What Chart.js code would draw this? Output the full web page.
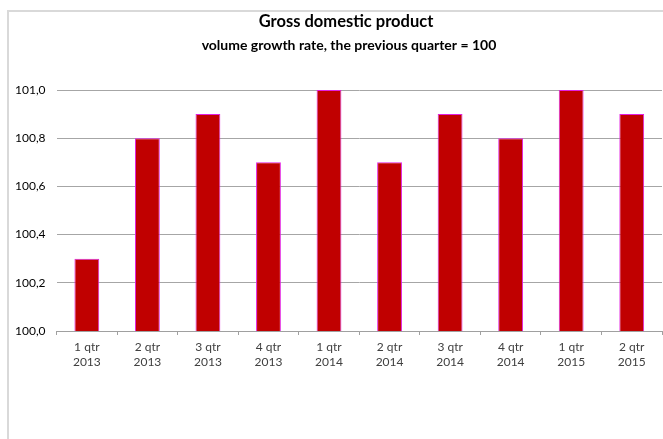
<!DOCTYPE html>
<html>
<head>
<meta charset="utf-8">
<script src="https://cdn.jsdelivr.net/npm/chart.js@4.4.1/dist/chart.umd.min.js"></script>
<style>
  html, body { margin: 0; padding: 0; background: #fff; overflow: hidden; }
  #frame { position: absolute; left: 7px; top: 10px; width: 700px; height: 500px; border: 2px solid #d9d9d9; box-sizing: border-box; }
  #wrap { position: absolute; left: 0; top: 0; width: 663px; height: 439px; }
</style>
</head>
<body>
<div id="frame"></div>
<div id="wrap"><canvas id="c" width="663" height="439"></canvas></div>
<script>
const titleText = "Gross domestic product";
const subtitleText = "volume growth rate, the previous quarter = 100";
const quarters = [["1 qtr","2013"],["2 qtr","2013"],["3 qtr","2013"],["4 qtr","2013"],["1 qtr","2014"],["2 qtr","2014"],["3 qtr","2014"],["4 qtr","2014"],["1 qtr","2015"],["2 qtr","2015"]];
const gdpIndex = [100.3, 100.8, 100.9, 100.7, 101.0, 100.7, 100.9, 100.8, 101.0, 100.9];
const yMin = 100.0, yMax = 101.0, yStep = 0.2;

const FONT = "Lato, 'Open Sans', sans-serif";

const titlePlugin = {
  id: 'customTitle',
  afterDraw(chart) {
    const ctx = chart.ctx;
    ctx.save();
    ctx.fillStyle = '#000';
    ctx.textAlign = 'center';
    ctx.textBaseline = 'middle';
    ctx.font = "bold 16.5px " + FONT;
    ctx.fillText(titleText, 346, 22);
    ctx.font = "bold 14px " + FONT;
    ctx.fillText(subtitleText, 349, 45);
    ctx.restore();
  }
};

new Chart(document.getElementById('c'), {
  type: 'bar',
  data: {
    labels: quarters,
    datasets: [{
      data: gdpIndex,
      backgroundColor: '#C00000',
      borderColor: '#E020E0',
      borderWidth: 1,
      barPercentage: 0.41,
      categoryPercentage: 1.0
    }]
  },
  options: {
    responsive: false,
    animation: false,
    layout: { padding: { left: 4, right: 1, top: 90, bottom: 64 } },
    plugins: { legend: { display: false }, title: { display: false }, tooltip: { enabled: false } },
    scales: {
      x: {
        grid: { display: true, drawOnChartArea: false, drawTicks: true, tickLength: 4, color: '#a0a0a0', offset: true },
        border: { display: true, color: '#a0a0a0' },
        ticks: { color: '#404040', font: { family: FONT, size: 12, lineHeight: 1.25 }, padding: 5, maxRotation: 0, autoSkip: false }
      },
      y: {
        min: yMin, max: yMax,
        grid: { color: '#a6a6a6', drawTicks: false },
        border: { display: false },
        ticks: {
          stepSize: yStep, color: '#000', padding: 11,
          font: { family: FONT, size: 12 },
          callback: v => Number(v).toFixed(1).replace('.', ',')
        }
      }
    }
  },
  plugins: [titlePlugin]
});
</script>
</body>
</html>
